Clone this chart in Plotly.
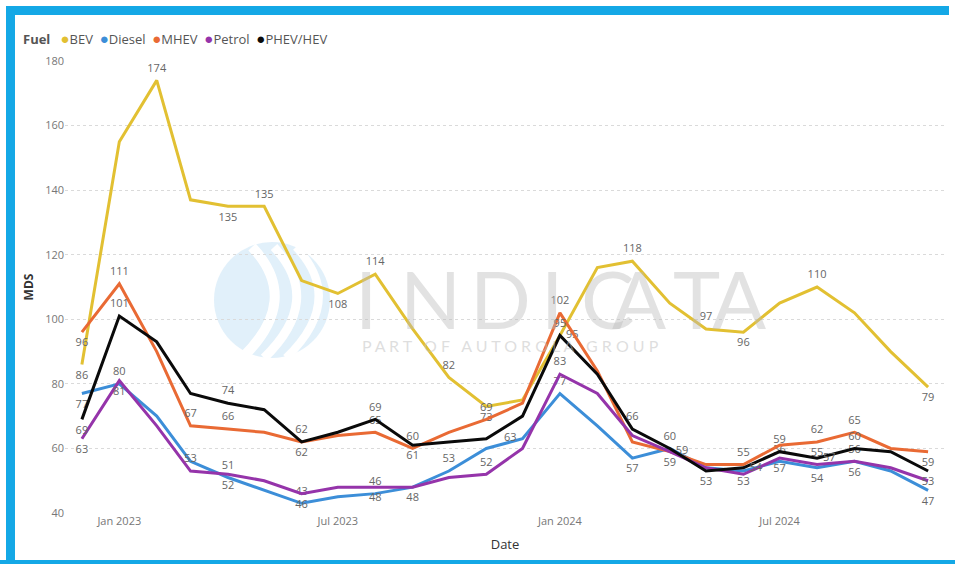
import pandas as pd
import plotly.graph_objects as go

# ---- data -------------------------------------------------------------
months = pd.date_range("2022-12-01", periods=24, freq="MS")

bev    = [86, 155, 174, 137, 135, 135, 112, 108, 114, 97, 82, 73, 75, 95, 116, 118, 105, 97, 96, 105, 110, 102, 90, 79]
diesel = [77, 80, 70, 56, 51, 47, 43, 45, 46, 48, 53, 60, 63, 77, 67, 57, 60, 54, 53, 56, 54, 56, 53, 47]
mhev   = [96, 111, 90, 67, 66, 65, 62, 64, 65, 60, 65, 69, 74, 102, 84, 62, 59, 55, 55, 61, 62, 65, 60, 59]
petrol = [63, 81, 67, 53, 52, 50, 46, 48, 48, 48, 51, 52, 60, 83, 77, 64, 59, 54, 52, 57, 55, 56, 54, 50]
phev   = [69, 101, 93, 77, 74, 72, 62, 65, 69, 61, 62, 63, 70, 95, 83, 66, 60, 53, 54, 59, 57, 60, 59, 53]

series_names = ["BEV", "Diesel", "MHEV", "Petrol", "PHEV/HEV"]
y_ticks = [40, 60, 80, 100, 120, 140, 160, 180]
x_tick_dates = ["2023-01-01", "2023-07-01", "2024-01-01", "2024-07-01"]
x_tick_text = ["Jan 2023", "Jul 2023", "Jan 2024", "Jul 2024"]

# ---- styling ----------------------------------------------------------
colors = {
    "BEV": "#E2C032",
    "Diesel": "#3C8ED8",
    "MHEV": "#E96A34",
    "Petrol": "#9534AA",
    "PHEV/HEV": "#0A0A0A",
}

# which points carry a value label, and where the label sits
T, Bm, MR, ML = "top center", "bottom center", "middle right", "middle left"
label_pos = {
    "BEV": {0: Bm, 2: T, 4: Bm, 5: T, 7: Bm, 8: T, 10: T, 11: Bm, 13: MR, 15: T,
            17: T, 18: Bm, 20: T, 23: Bm},
    "Diesel": {0: Bm, 1: T, 4: T, 6: T, 8: T, 10: T, 12: ML, 13: T, 15: Bm,
               18: Bm, 19: T, 20: Bm, 21: Bm, 23: Bm},
    "MHEV": {0: Bm, 1: T, 3: T, 4: T, 6: Bm, 8: T, 9: T, 11: T, 13: T, 16: Bm,
             18: T, 20: T, 21: T, 23: Bm},
    "Petrol": {0: Bm, 1: Bm, 3: T, 4: Bm, 6: Bm, 8: Bm, 9: Bm, 11: T, 13: T,
               16: MR, 19: Bm, 20: T, 21: T},
    "PHEV/HEV": {0: Bm, 1: T, 4: T, 6: T, 8: T, 9: Bm, 13: T, 15: T, 16: T,
                 17: Bm, 18: MR, 19: T, 20: MR, 21: T, 23: Bm},
}

values = {"BEV": bev, "Diesel": diesel, "MHEV": mhev, "Petrol": petrol, "PHEV/HEV": phev}

W, H = 955, 564
ML_, MR_, MT_, MB_ = 65, 10, 61, 51
PW, PH = W - ML_ - MR_, H - MT_ - MB_


def px(x):
    return (x - ML_) / PW


def py(y):
    return (H - MB_ - y) / PH


fig = go.Figure()

for name in series_names:
    vals = values[name]
    pos = label_pos[name]
    text = [str(v) if i in pos else "" for i, v in enumerate(vals)]
    tpos = [pos.get(i, T) for i in range(len(vals))]
    fig.add_trace(go.Scatter(
        x=months, y=vals, name=name, mode="lines+markers+text",
        line=dict(color=colors[name], width=3),
        marker=dict(size=8, opacity=0),
        text=text, textposition=tpos,
        textfont=dict(size=11, color="#666666", family="Open Sans"),
        cliponaxis=False, showlegend=False,
    ))

shapes = []
# outer frame
frame_col = "#14A8E6"
shapes += [
    dict(type="rect", xref="paper", yref="paper", x0=px(6), x1=px(949), y0=py(15), y1=py(6),
         fillcolor=frame_col, line_width=0, layer="below"),
    dict(type="rect", xref="paper", yref="paper", x0=px(6), x1=px(15), y0=py(564), y1=py(6),
         fillcolor=frame_col, line_width=0, layer="below"),
    dict(type="rect", xref="paper", yref="paper", x0=px(0), x1=px(955), y0=py(564), y1=py(560),
         fillcolor=frame_col, line_width=0, layer="below"),
]

# watermark emblem
cx, cy, r = 272, 300, 58
shapes.append(dict(type="circle", xref="paper", yref="paper",
                   x0=px(cx - r), x1=px(cx + r), y0=py(cy + r), y1=py(cy - r),
                   fillcolor="rgba(200,228,246,0.55)", line_width=0, layer="below"))
for dx, w in [(-30, 10), (-8, 9), (14, 8)]:
    shapes.append(dict(type="path", xref="paper", yref="paper",
                       path=f"M {px(cx + dx)},{py(cy + r)} Q {px(cx + dx + 60)},{py(cy)} {px(cx + dx + 10)},{py(cy - r + 5)}",
                       line=dict(color="white", width=w), layer="below"))

annotations = []
# watermark wordmark
letters = ["I", "N", "D", "I", "C", "A", "T", "A"]
letter_x = [366, 430, 500, 552, 607, 668, 722, 768]
for ch, lx in zip(letters, letter_x):
    annotations.append(dict(text=ch, x=px(lx), y=py(298), xref="paper", yref="paper",
                            showarrow=False, font=dict(size=80, color="rgba(185,185,185,0.42)", family="Lato")))
annotations.append(dict(text="P A R T   O F   A U T O R O L A   G R O U P", x=px(510), y=py(346),
                        xref="paper", yref="paper", showarrow=False,
                        font=dict(size=16, color="rgba(190,190,190,0.5)", family="Lato")))

# legend row
sp = "&nbsp;"
leg = "<b>Fuel</b>" + sp * 3 + (sp * 2).join(
    f"<span style='color:{colors[n]};font-size:15px'>●</span>{n}" for n in series_names)
annotations.append(dict(text=leg, x=px(21), y=py(38), xref="paper", yref="paper",
                        xanchor="left", yanchor="middle", showarrow=False,
                        font=dict(size=13, color="#555555", family="Open Sans")))

fig.update_layout(
    width=W, height=H,
    margin=dict(l=ML_, r=MR_, t=MT_, b=MB_),
    paper_bgcolor="white", plot_bgcolor="rgba(0,0,0,0)",
    font=dict(family="Open Sans", color="#666666"),
    shapes=shapes, annotations=annotations,
    showlegend=False,
    xaxis=dict(
        type="date", range=["2022-11-17", "2024-11-15"],
        tickvals=x_tick_dates, ticktext=x_tick_text,
        showgrid=False, zeroline=False, showline=False, ticks="",
        tickfont=dict(size=11, color="#777777"),
        title=dict(text="Date", font=dict(size=13, color="#333333"), standoff=12),
    ),
    yaxis=dict(
        range=[40, 180], tickvals=y_ticks,
        showgrid=True, gridcolor="#DADADA", griddash="dot", gridwidth=1,
        zeroline=False, showline=False, ticks="",
        tickfont=dict(size=11, color="#777777"),
        title=dict(text="<b>MDS</b>", font=dict(size=12, color="#333333"), standoff=8),
    ),
)

fig.write_html("out.html")
